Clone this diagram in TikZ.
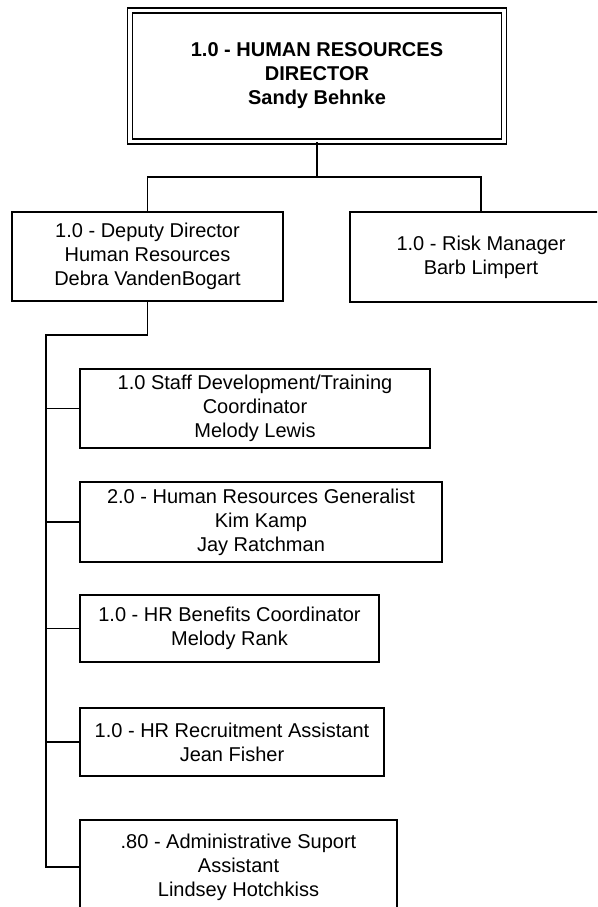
\documentclass[tikz,border=0pt]{standalone}
\usepackage{fontspec}
\setmainfont{Liberation Sans}
\begin{document}
\begin{tikzpicture}[x=1pt,y=-1pt,
  box/.style={draw, line width=1.5pt, rectangle, inner sep=0pt, align=center,
    font=\fontsize{20}{24}\selectfont},
  topbox/.style={box, double, double distance=3.4pt, line width=1.6pt,
    font=\fontsize{20}{24}\selectfont\bfseries},
  link/.style={line width=1.5pt}]
\clip (0,0) rectangle (597,907);
\node[topbox, minimum width=374pt, minimum height=131pt] (top) at (317,76)
  {1.0 - HUMAN RESOURCES\\DIRECTOR\\Sandy Behnke};
\node[box, minimum width=271pt, minimum height=89pt] (dep) at (147.5,256.5)
  {1.0 - Deputy Director\\Human Resources\\Debra VandenBogart};
\node[box, minimum width=262pt, minimum height=90pt] (risk) at (481,257)
  {1.0 - Risk Manager\\Barb Limpert};
\node[box, minimum width=350pt, minimum height=79pt] (staff) at (255,408.5)
  {1.0 Staff Development/Training\\Coordinator\\Melody Lewis};
\node[box, minimum width=362pt, minimum height=80pt] (gen) at (261,522)
  {2.0 - Human Resources Generalist\\Kim Kamp\\Jay Ratchman};
\node[box, minimum width=299pt, minimum height=67pt] (ben) at (229.5,628.5)
  {1.0 - HR Benefits Coordinator\\Melody Rank};
\node[box, minimum width=304pt, minimum height=68pt] (rec) at (232,742)
  {1.0 - HR Recruitment Assistant\\Jean Fisher};
\node[box, minimum width=317pt, minimum height=94pt] (adm) at (238.5,867)
  {.80 - Administrative Suport\\Assistant\\Lindsey Hotchkiss};
\coordinate (bus) at (317,177);
\coordinate (tr) at (46,335);
\draw[link] (top.south) -- (bus);
\draw[link] (dep.north) |- (bus) -| (risk.north);
\draw[link] (dep.south) |- (tr) |- (adm.west);
\draw[link] (tr) |- (staff.west);
\draw[link] (tr) |- (gen.west);
\draw[link] (tr) |- (ben.west);
\draw[link] (tr) |- (rec.west);
\end{tikzpicture}
\end{document}
